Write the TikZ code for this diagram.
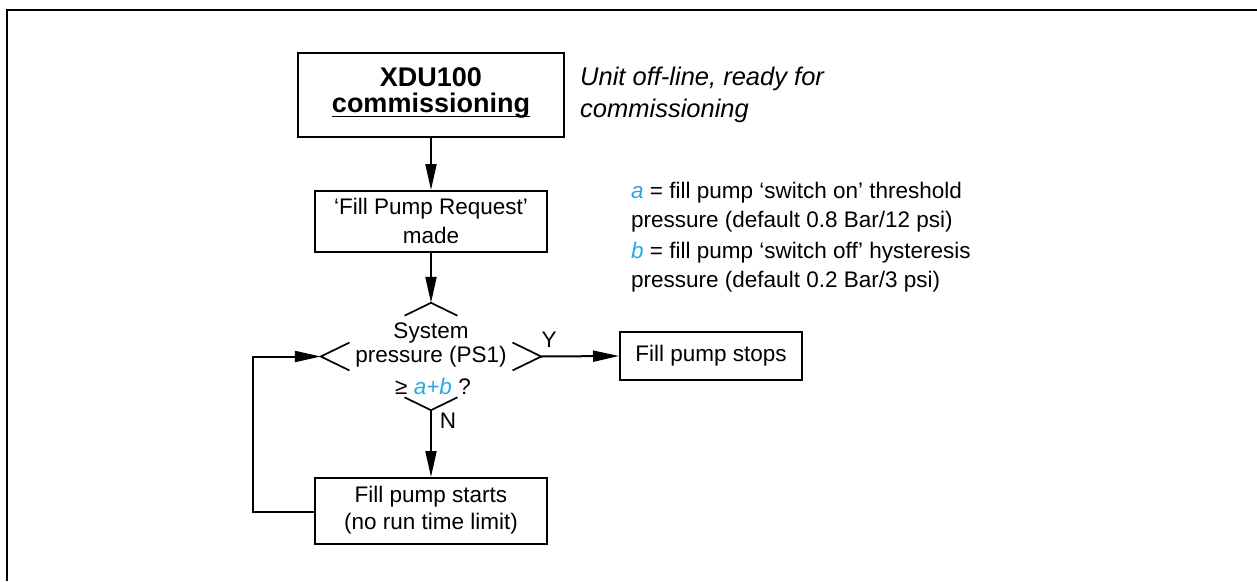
\documentclass[tikz,border=0pt]{standalone}
\usepackage{fontspec}
\setmainfont{Liberation Sans}
\usetikzlibrary{arrows.meta,shapes.geometric,calc}
\definecolor{abblue}{HTML}{29A9E0}
\begin{document}
\begin{tikzpicture}[x=1pt,y=-1pt,
  box/.style={draw,line width=2pt,inner sep=0pt,align=center,font=\fontsize{22.5}{26}\selectfont},
  txt/.style={inner sep=0pt,font=\fontsize{22.5}{27}\selectfont},
  conn/.style={line width=2pt,-{Triangle[length=26pt,width=11pt]}},
  chev/.style={line width=1.7pt},
  frameline/.style={line width=2.6pt}]
\useasboundingbox (0,0) rectangle (1257,581);
% frame
\coordinate (f1) at (1257,10);
\coordinate (f2) at (7,10);
\coordinate (f3) at (7,581);
\draw[frameline] (f1) -- (f2) -- (f3);
% start box
\node[box,minimum width=266pt,minimum height=84pt] (start) at (431,95) {};
\node[txt,font=\fontsize{27}{30}\bfseries] (t1) at (431,77) {XDU100};
\node[txt,font=\fontsize{27}{30}\bfseries] (t2) at (431,106) {commissioning};
\draw[line width=1.8pt] ([yshift=-3.5pt]t2.base west) -- ([yshift=-3.5pt]t2.base east);
\node[txt,anchor=west,align=left,font=\fontsize{25.5}{32}\itshape] (note) at (580,95) {Unit off-line, ready for\\commissioning};
% request box
\node[box,minimum width=232pt,minimum height=61pt] (req) at (431,221.5) {};
\node[txt] (r1) at (431,209) {`Fill Pump Request'};
\node[txt] (r2) at (431,235) {made};
% legend
\node[txt,anchor=west] (l1) at (631,193) {\textcolor{abblue}{\textit{a}} = fill pump `switch on' threshold};
\node[txt,anchor=west] (l2) at (631,222) {pressure (default 0.8 Bar/12 psi)};
\node[txt,anchor=west] (l3) at (631,253) {\textcolor{abblue}{\textit{b}} = fill pump `switch off' hysteresis};
\node[txt,anchor=west] (l4) at (631,282) {pressure (default 0.2 Bar/3 psi)};
% decision
\node[diamond,draw=none,minimum width=220pt,minimum height=107pt,inner sep=0pt] (dec) at (431,356.5) {};
\draw[chev] ($(dec.north)!0.24!(dec.west)$) -- (dec.north) -- ($(dec.north)!0.24!(dec.east)$);
\draw[chev] ($(dec.west)!0.26!(dec.north)$) -- (dec.west) -- ($(dec.west)!0.26!(dec.south)$);
\draw[chev] ($(dec.east)!0.26!(dec.north)$) -- (dec.east) -- ($(dec.east)!0.26!(dec.south)$);
\draw[chev] ($(dec.south)!0.24!(dec.west)$) -- (dec.south) -- ($(dec.south)!0.24!(dec.east)$);
\node[txt] (d1) at (431,333) {System};
\node[txt] (d2) at (431,357) {pressure (PS1)};
\node[txt] (d3) at (433,386) {≥ \textcolor{abblue}{\textit{a+b}} ?};
\node[txt] (ylab) at (549,340) {Y};
\node[txt] (nlab) at (448,421) {N};
% stop box
\node[box,minimum width=182pt,minimum height=48pt] (stop) at (711,356) {Fill pump stops};
% starts box
\node[box,minimum width=232pt,minimum height=66pt] (run) at (431,511) {};
\node[txt] (s1) at (431,497) {Fill pump starts};
\node[txt] (s2) at (431,524) {(no run time limit)};
% connectors
\draw[conn] (start.south) -- (req.north);
\draw[conn] (req.south) -- (dec.north);
\draw[conn] (dec.south) -- (run.north);
\draw[conn] (dec.east) -- (stop.west);
\coordinate (lb) at (253,512);
\draw[conn] (run.west |- lb) -- (lb) |- (dec.west);
\end{tikzpicture}
\end{document}
